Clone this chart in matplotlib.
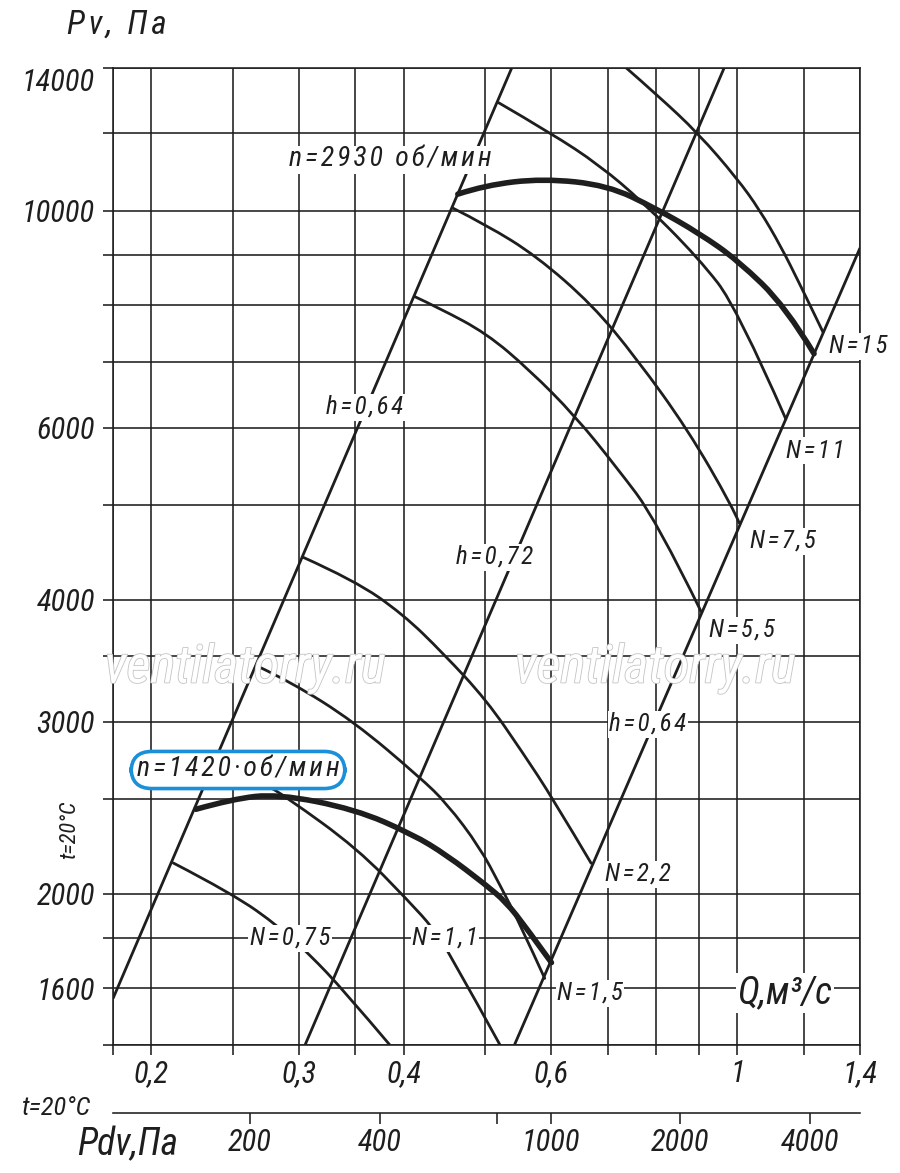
import numpy as np
import matplotlib.pyplot as plt
import matplotlib.patheffects as pe
from matplotlib.path import Path
from matplotlib.patches import PathPatch
from matplotlib.ticker import FixedLocator, FixedFormatter, NullLocator

plt.rcParams['font.family'] = ['Roboto Condensed', 'Liberation Sans', 'DejaVu Sans']
plt.rcParams['font.style'] = 'italic'

INK = '#1e1e1e'
BLUE = '#1b8fd8'

# сетка и подписи осей
q_ticks = [0.18, 0.2, 0.25, 0.3, 0.35, 0.4, 0.5, 0.6, 0.7, 0.8, 0.9, 1.0, 1.2, 1.4]
q_labels = ['', '0,2', '', '0,3', '', '0,4', '', '0,6', '', '', '', '1', '', '1,4']
p_ticks = [1400, 1600, 1800, 2000, 2500, 3000, 3500, 4000, 5000, 6000, 7000,
           8000, 9000, 10000, 12000, 14000]
p_labels = ['', '1600', '', '2000', '', '3000', '', '4000', '', '6000', '', '',
            '', '10000', '', '14000']
pdv_ticks = [200, 400, 750, 1000, 2000, 4000]
pdv_labels = ['200', '400', '', '1000', '2000', '4000']

# линии КПД (прямые)
eff1_q = [0.18, 0.538]
eff1_p = [1562, 14000]
eff2_q = [0.305, 0.964]
eff2_p = [1400, 14000]
eff3_q = [0.542, 1.40]
eff3_p = [1400, 9160]

# n = 2930 об/мин
a_q = [0.737, 0.802, 0.898, 0.999, 1.062, 1.127, 1.185, 1.234, 1.265]
a_p = [14000, 13140, 12000, 10790, 10030, 9190, 8430, 7850, 7510]
b_q = [0.519, 0.6, 0.684, 0.77, 0.898, 0.999, 1.142]
b_p = [12900, 12000, 11140, 10220, 8950, 7957, 6121]
n2930_q = [0.464, 0.5, 0.586, 0.7, 0.8, 0.9, 1.0, 1.142, 1.234]
n2930_p = [10400, 10620, 10790, 10620, 10050, 9484, 8903, 7975, 7140]
c_q = [0.458, 0.502, 0.5756, 0.6714, 0.757, 0.872, 0.987, 1.005]
c_p = [10060, 9670, 8990, 8010, 7070, 5975, 4972, 4790]
d_q = [0.412, 0.4416, 0.502, 0.565, 0.64, 0.717, 0.8, 0.905]
d_p = [8170, 7945, 7490, 6870, 6168, 5468, 4826, 3888]

# n = 1420 об/мин
e_q = [0.3032, 0.349, 0.399, 0.4457, 0.502, 0.555, 0.602, 0.669]
e_p = [4420, 4187, 3865, 3524, 3156, 2785, 2504, 2149]
f_q = [0.268, 0.293, 0.349, 0.418, 0.45, 0.493, 0.521, 0.55, 0.589]
f_p = [3417, 3296, 2999, 2631, 2475, 2230, 2040, 1864, 1638]
n1420_q = [0.226, 0.25, 0.283, 0.35, 0.41, 0.45, 0.5, 0.53, 0.56, 0.6]
n1420_p = [2440, 2500, 2530, 2440, 2300, 2190, 2045, 1960, 1845, 1700]
g_q = [0.235, 0.271, 0.29, 0.352, 0.407, 0.433, 0.454, 0.521]
g_p = [2630, 2600, 2510, 2225, 1958, 1846, 1735, 1400]
h_q = [0.2124, 0.25, 0.285, 0.309, 0.339, 0.385]
h_p = [2150, 2000, 1846, 1732, 1593, 1400]

W, H = 900, 1173


def px(x, y):
    return x / W, 1 - y / H


def spaced(s):
    return '\u200a'.join(s)


def smooth_curve(ax, q, p, lw):
    # квадратичные сплайны Безье: точки служат опорными,
    # кривая проходит через концы и середины (в логарифмах)
    q = np.asarray(q, float)
    p = np.asarray(p, float)
    verts = [(q[0], p[0])]
    codes = [Path.MOVETO]
    for i in range(1, len(q) - 1):
        if i < len(q) - 2:
            end = (np.sqrt(q[i] * q[i + 1]), np.sqrt(p[i] * p[i + 1]))
        else:
            end = (q[-1], p[-1])
        verts += [(q[i], p[i]), end]
        codes += [Path.CURVE3, Path.CURVE3]
    ax.add_patch(PathPatch(Path(verts, codes), fc='none', ec=INK, lw=lw,
                           capstyle='round', joinstyle='round'))


fig = plt.figure(figsize=(W / 100, H / 100), dpi=100)
ax = fig.add_axes([113 / W, 1 - 1045 / H, 747 / W, 977 / H])
ax.set_xscale('log')
ax.set_yscale('log')
ax.set_xlim(0.18, 1.4)
ax.set_ylim(1400, 14000)
ax.xaxis.set_major_locator(FixedLocator(q_ticks))
ax.xaxis.set_major_formatter(FixedFormatter(q_labels))
ax.xaxis.set_minor_locator(NullLocator())
ax.yaxis.set_major_locator(FixedLocator(p_ticks))
ax.yaxis.set_major_formatter(FixedFormatter(p_labels))
ax.yaxis.set_minor_locator(NullLocator())
ax.set_axisbelow(True)
ax.grid(True, which='major', color=INK, lw=1.15)
ax.tick_params(which='major', direction='out', length=7, width=1.15,
               color=INK, labelsize=22, pad=3, labelcolor=INK)
ax.tick_params(axis='y', pad=6)
for sp in ax.spines.values():
    sp.set_linewidth(1.15)
    sp.set_color(INK)
for tick, val in zip(ax.yaxis.get_major_ticks(), p_ticks):
    if val == 14000:
        tick.label1.set_verticalalignment('top')

for qq, pp in [(eff1_q, eff1_p), (eff2_q, eff2_p), (eff3_q, eff3_p)]:
    ax.plot(qq, pp, color=INK, lw=2.0, solid_capstyle='butt')
for qq, pp in [(a_q, a_p), (b_q, b_p), (c_q, c_p), (d_q, d_p),
               (e_q, e_p), (f_q, f_p), (g_q, g_p), (h_q, h_p)]:
    smooth_curve(ax, qq, pp, 2.0)
smooth_curve(ax, n2930_q, n2930_p, 4.0)
smooth_curve(ax, n1420_q, n1420_p, 4.0)

# шкала динамического давления
ax2 = fig.add_axes([113 / W, 1 - 1113 / H, 747 / W, 0.0001])
ax2.set_xscale('log')
ax2.set_xlim(96, 5240)
ax2.xaxis.set_major_locator(FixedLocator(pdv_ticks))
ax2.xaxis.set_major_formatter(FixedFormatter(pdv_labels))
ax2.xaxis.set_minor_locator(NullLocator())
ax2.set_yticks([])
ax2.patch.set_visible(False)
for s in ['top', 'left', 'right']:
    ax2.spines[s].set_visible(False)
ax2.spines['bottom'].set_linewidth(1.15)
ax2.spines['bottom'].set_color(INK)
ax2.tick_params(direction='out', length=8, width=1.15, color=INK,
                labelsize=22, pad=3, labelcolor=INK)

# водяные знаки
for x in (245, 655):
    fig.text(*px(x, 668), 'ventilatorry.ru', ha='center', va='center',
             fontsize=38, color='white',
             path_effects=[pe.Stroke(linewidth=1.2, foreground='#c4c4c4'),
                           pe.Normal()])

white = dict(fc='white', ec='none', pad=1)
labels = [
    ('h=0,64', 365, 407), ('h=0,72', 495, 557), ('h=0,64', 648, 724),
    ('N=15', 858, 346), ('N=11', 815, 451), ('N=7,5', 783, 541),
    ('N=5,5', 742, 630), ('N=2,2', 638, 874), ('N=1,5', 590, 993),
    ('N=1,1', 445, 938), ('N=0,75', 290, 938),
]
for s, x, y in labels:
    fig.text(*px(x, y), spaced(s), ha='center', va='center', fontsize=18,
             color=INK, bbox=white)

fig.text(*px(390, 160), spaced('n=2930 об/мин'), ha='center', va='center',
         fontsize=20, color=INK, bbox=white)
fig.text(*px(238, 770), spaced('n=1420·об/мин'), ha='center', va='center',
         fontsize=20, color=INK,
         bbox=dict(boxstyle='round,pad=0.2,rounding_size=0.75', fc='white',
                   ec=BLUE, lw=2.6))

fig.text(*px(785, 993), 'Q,м³/с', ha='center', va='center', fontsize=27,
         color=INK, bbox=white)
fig.text(*px(117, 25), spaced('Pv, Па'), ha='center', va='center', fontsize=24,
         color=INK)
fig.text(*px(128, 1145), 'Pdv,Па', ha='center', va='center', fontsize=27,
         color=INK)
fig.text(*px(70, 830), 't=20°C', ha='center', va='center', fontsize=16,
         rotation=90, color=INK)
fig.text(*px(57, 1108), 't=20°C', ha='center', va='center', fontsize=19,
         color=INK)

fig.savefig('out.png', dpi=100)
